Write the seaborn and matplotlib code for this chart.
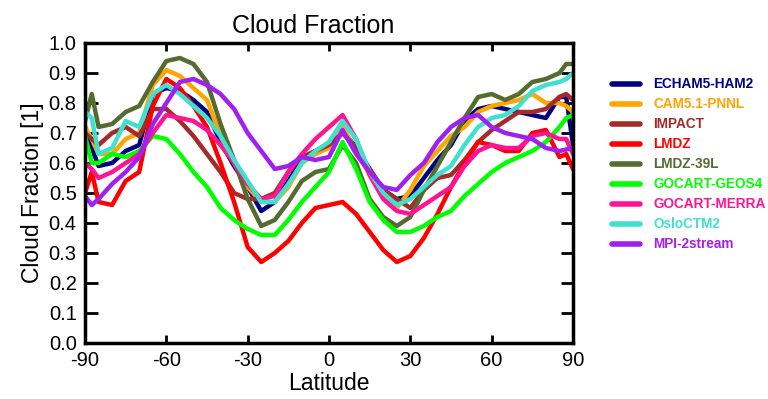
import numpy as np
import pandas as pd
import matplotlib
matplotlib.use("Agg")
import matplotlib.pyplot as plt
import seaborn as sns

lat = [-90, -87.5, -85, -80, -75, -70, -65, -60, -55, -50, -45, -40, -35, -30, -25, -20, -15, -10, -5, 0,
       5, 10, 15, 20, 25, 30, 35, 40, 45, 50, 55, 60, 65, 70, 75, 80, 85, 87.5, 90]

echam = [0.72, 0.65, 0.59, 0.60, 0.64, 0.66, 0.83, 0.85, 0.84, 0.81, 0.77, 0.67, 0.59, 0.52, 0.44, 0.47, 0.54, 0.61, 0.64, 0.66,
         0.71, 0.65, 0.58, 0.51, 0.48, 0.49, 0.55, 0.61, 0.66, 0.74, 0.78, 0.79, 0.78, 0.77, 0.76, 0.75, 0.82, 0.82, 0.66]
cam5 = [0.72, 0.68, 0.63, 0.63, 0.68, 0.70, 0.86, 0.91, 0.89, 0.85, 0.81, 0.69, 0.60, 0.52, 0.47, 0.47, 0.52, 0.60, 0.63, 0.65,
        0.72, 0.64, 0.56, 0.49, 0.45, 0.51, 0.59, 0.64, 0.69, 0.72, 0.77, 0.79, 0.80, 0.81, 0.83, 0.80, 0.80, 0.79, 0.77]
impact = [0.70, 0.68, 0.66, 0.70, 0.72, 0.69, 0.78, 0.78, 0.74, 0.69, 0.63, 0.57, 0.50, 0.48, 0.48, 0.50, 0.57, 0.62, 0.64, 0.66,
          0.70, 0.65, 0.58, 0.51, 0.48, 0.45, 0.51, 0.55, 0.56, 0.61, 0.67, 0.71, 0.74, 0.77, 0.77, 0.78, 0.82, 0.83, 0.81]
lmdz = [0.50, 0.57, 0.47, 0.46, 0.54, 0.57, 0.79, 0.88, 0.85, 0.79, 0.72, 0.60, 0.47, 0.32, 0.27, 0.30, 0.34, 0.40, 0.45, 0.46,
        0.47, 0.43, 0.37, 0.31, 0.27, 0.29, 0.35, 0.43, 0.52, 0.60, 0.67, 0.66, 0.64, 0.64, 0.70, 0.71, 0.62, 0.63, 0.58]
lmdz39 = [0.74, 0.83, 0.72, 0.73, 0.77, 0.79, 0.87, 0.94, 0.95, 0.93, 0.87, 0.73, 0.61, 0.48, 0.39, 0.41, 0.47, 0.54, 0.57, 0.58,
          0.66, 0.60, 0.48, 0.42, 0.39, 0.42, 0.51, 0.59, 0.67, 0.75, 0.82, 0.83, 0.81, 0.83, 0.87, 0.88, 0.90, 0.93, 0.93]
geos4 = [0.69, 0.60, 0.60, 0.63, 0.62, 0.64, 0.69, 0.68, 0.63, 0.57, 0.52, 0.45, 0.41, 0.38, 0.36, 0.36, 0.41, 0.47, 0.52, 0.57,
         0.67, 0.58, 0.47, 0.41, 0.37, 0.37, 0.39, 0.42, 0.44, 0.49, 0.53, 0.57, 0.60, 0.62, 0.64, 0.67, 0.72, 0.75, 0.76]
merra = [0.60, 0.58, 0.55, 0.57, 0.60, 0.63, 0.70, 0.76, 0.75, 0.74, 0.71, 0.66, 0.60, 0.53, 0.48, 0.49, 0.57, 0.63, 0.68, 0.72,
         0.76, 0.68, 0.56, 0.48, 0.44, 0.43, 0.46, 0.49, 0.52, 0.59, 0.64, 0.66, 0.65, 0.65, 0.69, 0.70, 0.68, 0.68, 0.63]
oslo = [0.77, 0.75, 0.63, 0.65, 0.74, 0.72, 0.83, 0.86, 0.83, 0.79, 0.75, 0.69, 0.61, 0.54, 0.47, 0.47, 0.53, 0.60, 0.64, 0.67,
        0.74, 0.68, 0.57, 0.50, 0.46, 0.48, 0.52, 0.56, 0.59, 0.66, 0.72, 0.75, 0.76, 0.79, 0.84, 0.86, 0.87, 0.88, 0.90]
mpi = [0.49, 0.46, 0.48, 0.53, 0.57, 0.62, 0.73, 0.80, 0.87, 0.88, 0.86, 0.83, 0.78, 0.70, 0.64, 0.58, 0.59, 0.62, 0.61, 0.62,
       0.71, 0.63, 0.57, 0.52, 0.51, 0.56, 0.60, 0.67, 0.72, 0.75, 0.76, 0.72, 0.70, 0.69, 0.68, 0.65, 0.64, 0.645, 0.65]

models = ["ECHAM5-HAM2", "CAM5.1-PNNL", "IMPACT", "LMDZ", "LMDZ-39L",
          "GOCART-GEOS4", "GOCART-MERRA", "OsloCTM2", "MPI-2stream"]
series = [echam, cam5, impact, lmdz, lmdz39, geos4, merra, oslo, mpi]
colors = ["#000080", "#FFA500", "#A52A2A", "#FF0000", "#556B2F",
          "#00FF00", "#FF1493", "#40E0D0", "#A020F0"]

xticks = [-90, -60, -30, 0, 30, 60, 90]
yticks = [0.0, 0.1, 0.2, 0.3, 0.4, 0.5, 0.6, 0.7, 0.8, 0.9, 1.0]

df = pd.DataFrame({
    "lat": np.tile(lat, len(models)),
    "cf": np.concatenate(series),
    "model": np.repeat(models, len(lat)),
})

sns.set_style("ticks")
plt.rcParams["font.family"] = ["Liberation Sans", "DejaVu Sans"]
plt.rcParams["text.color"] = "black"
plt.rcParams["axes.labelcolor"] = "black"
plt.rcParams["xtick.color"] = "black"
plt.rcParams["ytick.color"] = "black"

fig = plt.figure(figsize=(7.68, 3.99), dpi=100)
ax = fig.add_axes([85 / 768, 56 / 399, 488 / 768, 300 / 399])

sns.lineplot(data=df, x="lat", y="cf", hue="model", hue_order=models,
             palette=dict(zip(models, colors)), linewidth=3.2, ax=ax,
             estimator=None, sort=False)

ax.set_xlim(-90, 90)
ax.set_ylim(0, 1)
ax.set_xticks(xticks)
ax.set_xticklabels([str(t) for t in xticks])
ax.set_yticks(yticks)
ax.set_yticklabels([f"{t:.1f}" for t in yticks])
ax.tick_params(axis="both", which="major", direction="in", labelsize=14.5,
               width=2, top=True, right=True, colors="black", labelcolor="black", pad=6)
ax.tick_params(axis="y", length=9)
ax.tick_params(axis="x", length=6)
for s in ax.spines.values():
    s.set_visible(True)
    s.set_linewidth(2.5)
    s.set_color("black")

ax.set_xlabel("Latitude", fontsize=16.5, labelpad=1, color="black")
ax.set_ylabel("Cloud Fraction [1]", fontsize=16.5, labelpad=3, color="black")
ax.set_title("Cloud Fraction", fontsize=18, pad=7, color="black", x=0.468)

handles, labels = ax.get_legend_handles_labels()
leg = ax.legend(handles, labels, loc="upper left", bbox_to_anchor=(607 / 768, 327 / 399),
                bbox_transform=fig.transFigure, frameon=False,
                prop={"weight": "bold", "size": 9.8}, handlelength=2.0,
                handletextpad=1.0, labelspacing=0.44, labelcolor="linecolor",
                borderaxespad=0, borderpad=0.4)
for lh in leg.get_lines():
    lh.set_linewidth(4)

fig.savefig("out.png", dpi=100)
